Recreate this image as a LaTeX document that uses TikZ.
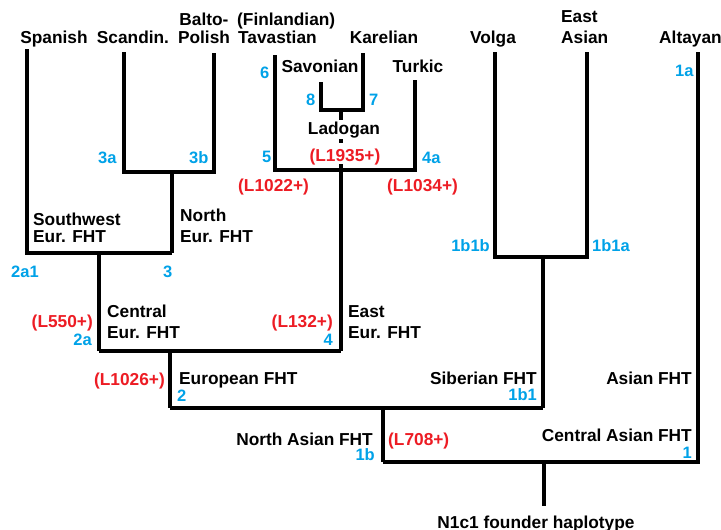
\documentclass[tikz,border=0pt]{standalone}
\usepackage{fontspec}
\setmainfont{Liberation Sans}
\definecolor{numblue}{RGB}{0,162,232}
\definecolor{snpred}{RGB}{237,28,36}
\begin{document}
\begin{tikzpicture}[x=1pt,y=-1pt,
  tree/.style={line width=4.6pt, line join=miter, line cap=butt},
  lbl/.style={inner sep=0pt, font=\fontsize{17.3}{20}\selectfont\bfseries, text=black},
  num/.style={inner sep=0pt, font=\fontsize{16.5}{20}\selectfont\bfseries, text=numblue},
  snp/.style={lbl, text=snpred}]
\clip (0,0) rectangle (721,530);
\fill[white] (0,0) rectangle (721,530);

% ---- tree coordinates ----
\coordinate (spT) at (27,49);
\coordinate (scT) at (124,52);
\coordinate (bpT) at (214,53);
\coordinate (j3) at (172,172);
\coordinate (j2a) at (99,253);
\coordinate (j2aR) at (172,253);
\coordinate (tvT) at (275,55);
\coordinate (svT) at (321,82);
\coordinate (krT) at (363,53);
\coordinate (j7) at (341,110);
\coordinate (j7b) at (341,120);
\coordinate (j4top) at (341,164);
\coordinate (tkT) at (415,80);
\coordinate (j4a) at (341,170);
\coordinate (j2L) at (99,351);
\coordinate (j2R) at (341,351);
\coordinate (j2) at (170,351);
\coordinate (voT) at (495,52);
\coordinate (eaT) at (587,52);
\coordinate (j1b1) at (543,257);
\coordinate (j1bL) at (170,408);
\coordinate (j1bR) at (543,408);
\coordinate (j1b) at (383,408);
\coordinate (j1L) at (383,462);
\coordinate (alT) at (698,52);
\coordinate (j1) at (544,462);
\coordinate (root) at (544,506);

% ---- tree lines ----
\draw[tree] (scT) |- (j3) -| (bpT);
\draw[tree] (j3) -- (j2aR);
\draw[tree] (spT) |- (j2aR);
\draw[tree] (j2a) -- (j2L);
\draw[tree] (svT) |- (j7) -| (krT);
\draw[tree] (j7) -- (j7b);
\fill (339,139) rectangle (343,143);
\draw[tree] (tvT) |- (j4a) -| (tkT);
\draw[tree] (j4top) -- (j2R);
\draw[tree] (j2L) -- (j2R);
\draw[tree] (j2) -- (j1bL);
\draw[tree] (voT) |- (j1b1) -| (eaT);
\draw[tree] (j1b1) -- (j1bR);
\draw[tree] (j1bL) -- (j1bR);
\draw[tree] (j1b) -- (j1L);
\draw[tree] (j1L) -| (alT);
\draw[tree] (j1) -- (root);

% ---- leaf labels ----
\node[lbl, anchor=base] (spanish) at (54,43) {Spanish};
\node[lbl, anchor=base] (scandin) at (133,43) {Scandin.};
\node[lbl, anchor=base] (balto) at (204,25) {Balto-};
\node[lbl, anchor=base] (polish) at (204,43) {Polish};
\node[lbl, anchor=base west] (finl) at (237,25) {(Finlandian)};
\node[lbl, anchor=base west] (tavast) at (238,43) {Tavastian};
\node[lbl, anchor=base] (karel) at (384,43) {Karelian};
\node[lbl, anchor=base] (turkic) at (418,72) {Turkic};
\node[lbl, anchor=base] (savon) at (320,72) {Savonian};
\node[lbl, anchor=base] (volga) at (493,43) {Volga};
\node[lbl, anchor=base west] (east1) at (561,23) {East};
\node[lbl, anchor=base west] (asian1) at (561,43) {Asian};
\node[lbl, anchor=base west] (altay) at (659,43) {Altayan};
\node[lbl, anchor=base] (ladogan) at (344,134) {Ladogan};

% ---- blue numbers ----
\node[num, anchor=base west] (n1a) at (675,76) {1a};
\node[num, anchor=base west] (n6) at (260,78) {6};
\node[num, anchor=base west] (n8) at (306,105) {8};
\node[num, anchor=base west] (n7) at (369,105) {7};
\node[num, anchor=base west] (n5) at (262,162) {5};
\node[num, anchor=base west] (n4a) at (422,163) {4a};
\node[num, anchor=base west] (n3a) at (98,163) {3a};
\node[num, anchor=base west] (n3b) at (189,163) {3b};
\node[num, anchor=base west] (n2a1) at (11,277) {2a1};
\node[num, anchor=base west] (n3) at (163,277) {3};
\node[num, anchor=base east] (n2a) at (92,345) {2a};
\node[num, anchor=base east] (n4) at (333,345) {4};
\node[num, anchor=base east] (n1b1b) at (490,251) {1b1b};
\node[num, anchor=base west] (n1b1a) at (592,251) {1b1a};
\node[num, anchor=base west] (n2) at (177,401) {2};
\node[num, anchor=base east] (n1b) at (375,460) {1b};
\node[num, anchor=base east] (n1b1) at (537,400) {1b1};
\node[num, anchor=base east] (n1) at (692,458) {1};

% ---- red SNP labels ----
\node[snp, anchor=base] (l1935) at (345,161) {(L1935+)};
\node[snp, anchor=base west] (l1022) at (238,191) {(L1022+)};
\node[snp, anchor=base west] (l1034) at (387,191) {(L1034+)};
\node[snp, anchor=base east] (l550) at (93,327) {(L550+)};
\node[snp, anchor=base east] (l132) at (333,327) {(L132+)};
\node[snp, anchor=base east] (l1026) at (165,385) {(L1026+)};
\node[snp, anchor=base west] (l708) at (388,445) {(L708+)};

% ---- clade labels ----
\node[lbl, anchor=base west] (sw1) at (33,225) {Southwest};
\node[lbl, anchor=base west] (sw2) at (33,242) {Eur. FHT};
\node[lbl, anchor=base west] (no1) at (180,221) {North};
\node[lbl, anchor=base west] (no2) at (180,242) {Eur. FHT};
\node[lbl, anchor=base west] (ce1) at (107,317) {Central};
\node[lbl, anchor=base west] (ce2) at (107,338) {Eur. FHT};
\node[lbl, anchor=base west] (ea1) at (348,317) {East};
\node[lbl, anchor=base west] (ea2) at (348,338) {Eur. FHT};
\node[lbl, anchor=base west] (euro) at (179,384) {European FHT};
\node[lbl, anchor=base east] (nasia) at (373,445) {North Asian FHT};
\node[lbl, anchor=base east] (sib) at (537,384) {Siberian FHT};
\node[lbl, anchor=base east] (asia) at (692,384) {Asian FHT};
\node[lbl, anchor=base east] (casia) at (692,441) {Central Asian FHT};
\node[lbl, anchor=base] (founder) at (536,528) {N1c1 founder haplotype};
\end{tikzpicture}
\end{document}
